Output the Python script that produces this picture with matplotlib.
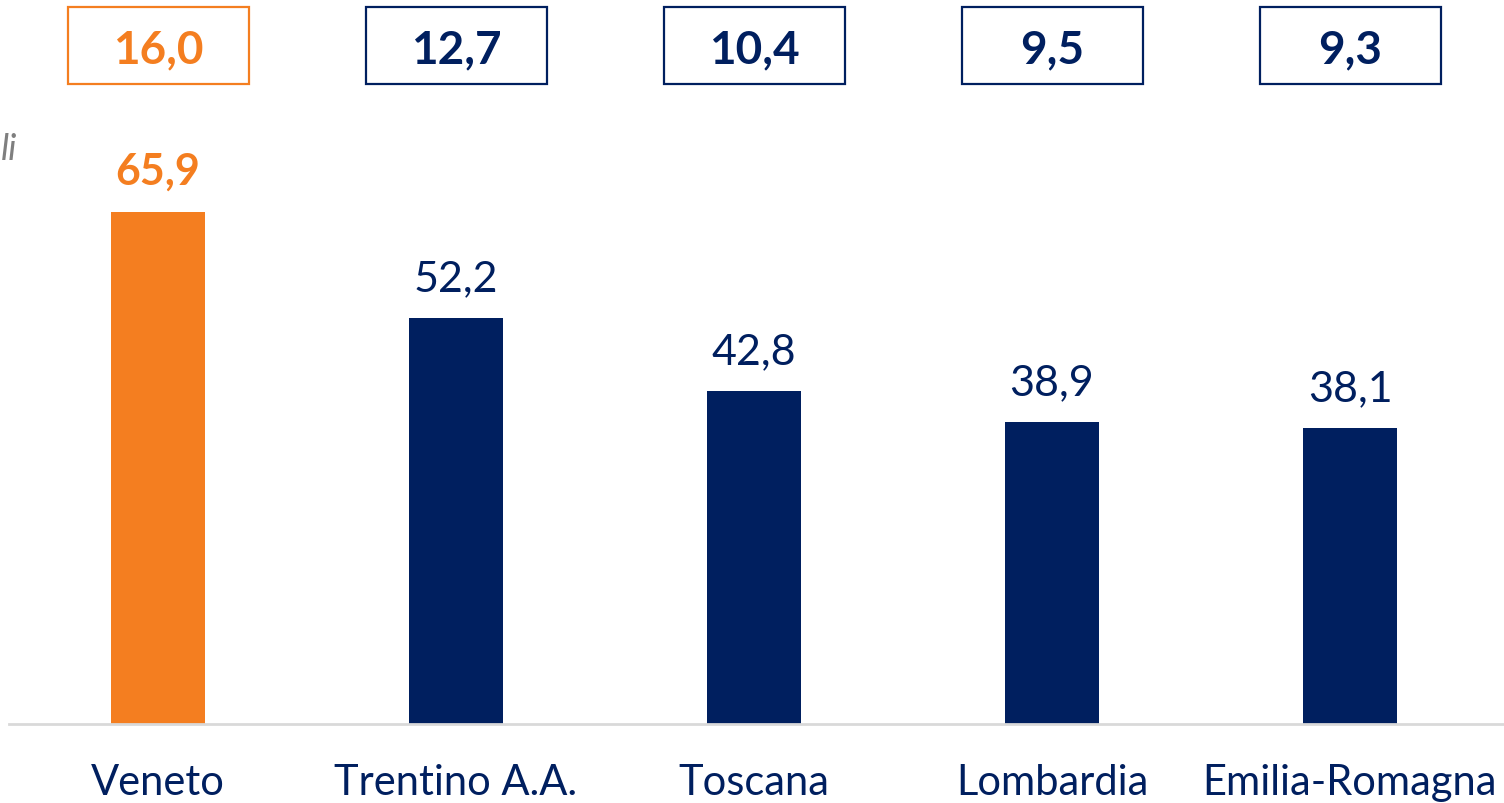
import matplotlib
matplotlib.use("Agg")
import matplotlib.pyplot as plt
from matplotlib.patches import Rectangle
import matplotlib.transforms as mtransforms

categories = ["Veneto", "Trentino A.A.", "Toscana", "Lombardia", "Emilia-Romagna"]
values = [65.9, 52.2, 42.8, 38.9, 38.1]
box_values = [16.0, 12.7, 10.4, 9.5, 9.3]

ORANGE = "#F47E20"
NAVY = "#001F5F"
FONT = ["Lato", "DejaVu Sans"]

def fmt(v):
    return f"{v:.1f}".replace(".", ",")

W, H = 1504, 804
fig = plt.figure(figsize=(W / 100, H / 100), dpi=100)
ax = fig.add_axes([9 / W, (H - 725) / H, (W - 9) / W, 725 / H])

x = list(range(len(categories)))
colors = [ORANGE] + [NAVY] * (len(categories) - 1)
bars = ax.bar(x, values, width=0.315, color=colors, zorder=2)

ax.set_xlim(-0.5, (W - 158) / 298)
ax.set_ylim(0, 725 / 7.77)

for s in ["top", "right", "left"]:
    ax.spines[s].set_visible(False)
ax.spines["bottom"].set_color("#D9D9D9")
ax.spines["bottom"].set_linewidth(2)
ax.set_yticks([])
ax.set_xticks(x)
ax.set_xticklabels([])
ax.tick_params(axis="x", length=0)

trans_lab = mtransforms.blended_transform_factory(ax.transData, fig.transFigure)
for xi, cat in zip(x, categories):
    ax.text(xi, (H - 795) / H, cat, transform=trans_lab, ha="center",
            va="baseline", fontsize=30, color=NAVY, family=FONT, clip_on=False)

# value labels above bars
for i, (xi, v) in enumerate(zip(x, values)):
    ax.annotate(fmt(v), (xi, v), xytext=(0, 15), textcoords="offset points",
                ha="center", va="bottom", fontsize=31,
                color=ORANGE if i == 0 else NAVY,
                fontweight="bold" if i == 0 else "normal", family=FONT)

# boxes at top
trans = mtransforms.blended_transform_factory(ax.transData, fig.transFigure)
bw = 181 / 298
y0 = (H - 85) / H
bh = 77 / H
for i, (xi, bv) in enumerate(zip(x, box_values)):
    c = ORANGE if i == 0 else NAVY
    rect = Rectangle((xi - bw / 2, y0), bw, bh, transform=trans, fill=False,
                     edgecolor=c, linewidth=1.6, clip_on=False)
    fig.add_artist(rect)
    ax.text(xi, y0 + bh / 2, fmt(bv), transform=trans, ha="center", va="center_baseline",
            fontsize=33, fontweight="bold", color=c, family=FONT, clip_on=False)

# partially visible italic note at left edge
fig.text(1 / W, (H - 150) / H, "li", ha="left", va="center", fontsize=26,
         style="italic", color="#7F7F7F", family=FONT)

fig.savefig("out.png", dpi=100)
